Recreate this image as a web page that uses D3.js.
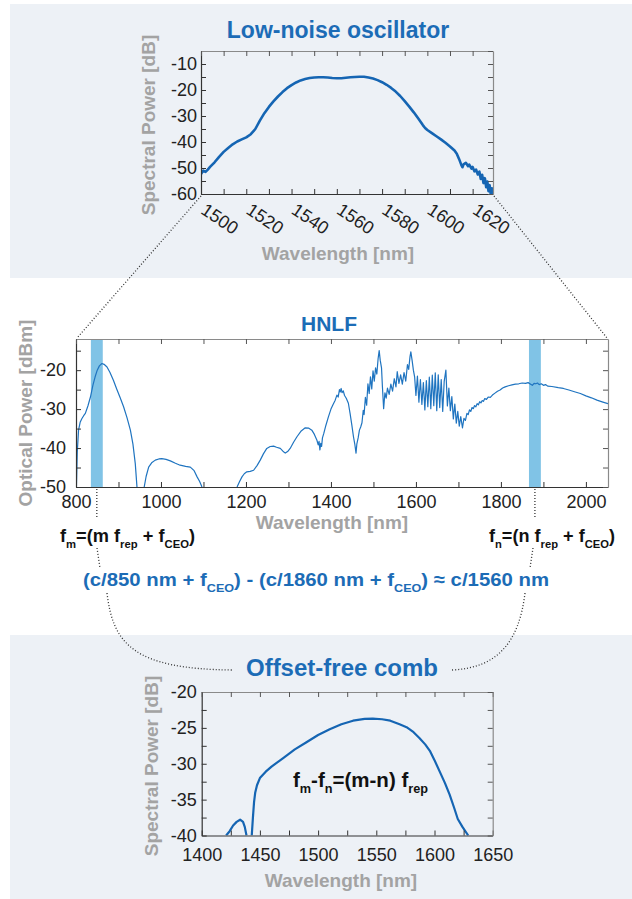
<!DOCTYPE html>
<html>
<head>
<meta charset="utf-8">
<script src="https://cdn.jsdelivr.net/npm/d3@7"></script>
<style>
    body { margin: 0; background: #fff; }
    svg { display: block; font-family: "Liberation Sans", Arial, sans-serif; }
    .axis text { font-size: 18px; fill: #222; font-family: "Liberation Sans", Arial, sans-serif; }
</style>
</head>
<body>
<script>
(function () {

    //spectrum of the low-noise oscillator [nm, dB]
    var oscSpectrum = [
        [1500, -52.3], [1501, -51], [1502, -51.5], [1503, -50.6], [1504, -49.6], [1506, -47.8],
        [1508, -45.7], [1510, -43.8], [1512, -42.3], [1514, -40.9], [1516, -39.8], [1518, -39.0],
        [1520, -38.2], [1522, -37.0], [1524, -35.0], [1526, -31.8], [1528, -28.9], [1530, -26.5],
        [1532, -24.4], [1534, -22.5], [1536, -20.8], [1538, -19.3], [1540, -18.1], [1542, -17.1],
        [1544, -16.3], [1546, -15.8], [1548, -15.4], [1550, -15.2], [1552, -15.1], [1554, -15.1],
        [1556, -15.2], [1558, -15.4], [1560, -15.5], [1562, -15.5], [1564, -15.3], [1566, -15.1],
        [1568, -15.0], [1570, -14.9], [1572, -14.9], [1574, -15.2], [1576, -15.6], [1578, -16.2],
        [1580, -17.0], [1582, -18.0], [1584, -19.2], [1586, -20.6], [1588, -22.3], [1590, -24.3],
        [1592, -26.4], [1594, -28.6], [1596, -31.0], [1598, -33.5], [1599, -34.6], [1600, -35.4],
        [1602, -36.6], [1604, -37.8], [1606, -39.0], [1608, -40.3], [1610, -41.7], [1612, -43.3],
        [1613, -44.5], [1614, -46.5], [1615, -48.8], [1615.5, -49.7], [1616, -48.6], [1617, -48.0],
        [1618, -49.3], [1618.5, -48.7], [1619.5, -50.2], [1620, -49.6], [1620.8, -51.3], [1621.5, -50.6],
        [1622.3, -52.5], [1623, -51.4], [1623.6, -54.2], [1624.2, -52.6], [1624.8, -55.8], [1625.4, -53.9],
        [1626, -57.4], [1626.5, -55.2], [1627, -58.9], [1627.5, -56.6], [1628, -60], [1628.5, -57.8], [1629, -60]
    ];

    //HNLF output spectrum [nm, dBm], three visible pieces
    var hnlfPiece1 = [
        [801, -50], [803, -41], [806, -35.4], [810, -33.3], [814, -32.4], [818, -31.7], [822, -31.1],
        [828, -29.2], [834, -26.9], [840, -23.8], [845, -21.7], [850, -20], [855, -18.9], [861, -18.3],
        [866, -18.5], [873, -19.2], [880, -20.6], [888, -22.6], [896, -24.9], [904, -27.1], [912, -29.4],
        [920, -32.2], [928, -35.4], [934, -39], [939.5, -44], [943.5, -50]
    ];
    var hnlfPiece2 = [
        [960.5, -50], [965, -47.3], [971, -44.9], [978, -43.8], [986.6, -43.1], [995, -42.8], [1002, -42.7],
        [1012, -42.9], [1022, -43.3], [1034, -43.9], [1045, -44.4], [1058, -44.7], [1069, -44.9],
        [1078, -45.8], [1085, -47.4], [1091, -48.6], [1096.5, -50]
    ];
    var hnlfPiece3 = [
        [1179, -50], [1185, -48.6], [1190.6, -47.4], [1196, -46.6], [1202, -46.1], [1210, -46], [1218, -45.7],
        [1226, -44.5], [1233.6, -43.1], [1241, -41.5], [1249, -40.1], [1257, -39.6], [1265, -39.5],
        [1272, -39.8], [1280.7, -40.1], [1287, -40.8], [1292.5, -41.3], [1298, -40.9], [1304, -40.1],
        [1312, -38.5], [1320, -37.1], [1330, -35.6], [1339.5, -34.8], [1348, -34.9], [1355, -35.4],
        [1361, -36.5], [1367, -38], [1370, -39.2], [1372, -38.3], [1374, -40.5], [1376, -38.8], [1378, -39.6],
        [1380, -37.4], [1383, -36.3], [1388, -34.2], [1394, -32], [1400, -30], [1405, -28.8], [1410, -27.7],
        [1414, -26.4], [1417, -26.9], [1420, -25.0], [1422, -25.6], [1424, -24.7], [1426, -25.8], [1429, -25.3],
        [1432, -26.5], [1436, -27.2], [1441, -28.5], [1445, -31.1], [1449, -34], [1453, -37.1], [1456, -38.9],
        [1459, -41.3], [1461, -38.9], [1464, -37.4], [1467, -35.4], [1470, -34.6], [1473, -33.5], [1476, -30.3],
        [1478, -31.4], [1481, -27], [1484, -29], [1487, -23.5], [1490, -26], [1493, -21.7], [1496, -24.8],
        [1499, -20.2], [1502, -22.8], [1505, -19.4], [1508, -21], [1511, -17], [1513.5, -15], [1516, -17.5],
        [1519, -19.4], [1521, -24], [1524, -29.9], [1527, -25.8], [1530, -27.2], [1533, -24.6], [1537, -26.2],
        [1541, -23.6], [1545, -25.4], [1549, -22.2], [1553, -24.3], [1556, -20.4], [1560, -23.4], [1564, -21.2],
        [1568, -23.6], [1572, -20.6], [1576, -22.8], [1580, -18.6], [1583, -19.8], [1586, -16.6], [1588, -15.3],
        [1591, -17.5], [1594, -20], [1597, -21.8], [1600, -26.5], [1603.5, -21.5], [1607, -28.2], [1610.5, -22.4],
        [1614, -28.8], [1617.5, -23.2], [1621, -30.2], [1624.5, -22.7], [1628, -29.4], [1631.5, -21.8],
        [1635, -29.9], [1638.5, -21.3], [1642, -29.1], [1645.5, -20.7], [1649, -30.4], [1652.5, -21.2],
        [1656, -29.6], [1659.5, -22.4], [1663, -30.6], [1666.5, -22.9], [1670.5, -20], [1674, -29.2],
        [1677.5, -24.6], [1681, -30.4], [1684.5, -26.8], [1688, -32.5], [1691.5, -28.7], [1695, -33.6],
        [1698.5, -30.6], [1702, -34.4], [1705.5, -31.9], [1709.5, -34.8], [1713, -32.4], [1716.5, -32.9],
        [1720, -31.1], [1723, -31.4], [1726, -30.2], [1729, -30.6], [1732, -29.6], [1735, -29.9],
        [1738, -29.1], [1741, -29.4], [1744, -28.6], [1747, -28.9], [1750, -28.1], [1753, -28.4], [1756, -27.8],
        [1759, -28], [1762, -27.3], [1766, -27.5], [1770, -26.9], [1775, -27.0], [1780, -26.4], [1786, -25.9],
        [1792, -25.4], [1798, -25.1], [1804, -24.6], [1810, -24.3], [1818, -24], [1826, -23.8], [1834, -23.6],
        [1842, -23.5], [1850, -23.3], [1858, -23.4], [1864, -23.2], [1870, -23.6], [1874, -23.9], [1878, -23.4],
        [1882, -23.5], [1886, -23.3], [1890, -23.7], [1895, -23.5], [1900, -23.9], [1905, -23.7], [1910, -24.1],
        [1920, -24.2], [1935, -24.5], [1947, -24.7], [1960, -25.1], [1975, -25.6], [1987, -26], [2000, -26.6],
        [2013, -27.1], [2026, -27.7], [2040, -28.2], [2052, -28.6]
    ];
    //filtered bands around 850 nm and 1880 nm
    var hnlfBands = [[835, 863], [1866, 1894]];

    //offset-free comb spectrum [nm, dB]
    var combSide = [
        [1421, -40], [1424, -39.4], [1427, -38.6], [1430, -38.1], [1433, -37.8], [1435.5, -38.1],
        [1437, -38.8], [1438.5, -40]
    ];
    var combMain = [
        [1443, -40], [1444, -37.5], [1445, -35.3], [1446, -34], [1447.5, -33.0], [1450, -32.0], [1455, -31.1],
        [1460, -30.4], [1470, -29.2], [1480, -28.0], [1490, -27.0], [1500, -26.0], [1510, -25.2], [1520, -24.5],
        [1530, -24.0], [1540, -23.75], [1547, -23.7], [1555, -23.8], [1562, -24.0], [1570, -24.5], [1576, -24.9],
        [1582, -25.6], [1587, -26.4], [1592, -27.3], [1596, -28.2], [1600, -29.5], [1604.5, -31.1], [1609, -32.7],
        [1613, -34.3], [1617, -36.2], [1620, -37.7], [1624, -38.8], [1629, -40]
    ];

    //tick labels
    var oscXLabels = [1500, 1520, 1540, 1560, 1580, 1600, 1620];
    var oscYLabels = [-10, -20, -30, -40, -50, -60];
    var hnlfXLabels = [800, 1000, 1200, 1400, 1600, 1800, 2000];
    var hnlfYLabels = [-20, -30, -40, -50];
    var combXLabels = [1400, 1450, 1500, 1550, 1600, 1650];
    var combYLabels = [-20, -25, -30, -35, -40];

    var blue = "#1c6cb6",
        grey = "#a3a3a3",
        panelFill = "#edf1f6";

    window.onload = draw();

    function draw() {
        var svg = d3.select("body").append("svg")
            .attr("width", 632)
            .attr("height", 899);

        //panel backgrounds
        svg.append("rect").attr("x", 10).attr("y", 4).attr("width", 622).attr("height", 274).attr("fill", panelFill);
        svg.append("rect").attr("x", 10).attr("y", 635).attr("width", 622).attr("height", 264).attr("fill", panelFill);

        //---- top: low-noise oscillator
        var xOsc = d3.scaleLinear().domain([1500, 1629]).range([201, 493]);
        var yOsc = d3.scaleLinear().domain([-60, -5]).range([194, 51]);
        plotLine(svg, "clipOsc", xOsc, yOsc, [oscSpectrum], "#1565b3", 2.6);
        drawAxes(svg, xOsc, yOsc, {
            xTicks: d3.range(1500, 1630, 10), xLabels: oscXLabels,
            yTicks: d3.range(-60, -4, 5), yLabels: oscYLabels,
            padX: 0, padY: 4, rotate: true
        });
        title(svg, "Low-noise oscillator", 338, 38, 23);
        axisLabel(svg, "Wavelength [nm]", 338, 260, false);
        axisLabel(svg, "Spectral Power [dB]", 155, 125, true);

        //zoom lines
        dotted(svg, "M201,196L77,338");
        dotted(svg, "M494,196L607,338");

        //---- middle: HNLF
        var xH = d3.scaleLinear().domain([800, 2052]).range([76, 608]);
        var yH = d3.scaleLinear().domain([-50, -12]).range([487, 339]);
        svg.append("rect").attr("x", 76).attr("y", 339).attr("width", 532).attr("height", 148).attr("fill", "#fff");
        svg.selectAll(".band")
            .data(hnlfBands)
            .enter()
            .append("rect")
            .attr("class", "band")
            .attr("x", function (d) { return xH(d[0]); })
            .attr("width", function (d) { return xH(d[1]) - xH(d[0]); })
            .attr("y", yH(-12))
            .attr("height", yH(-50) - yH(-12))
            .attr("fill", "#80c3e6");
        plotLine(svg, "clipH", xH, yH, [hnlfPiece1, hnlfPiece2, hnlfPiece3], "#1f74c0", 1.2);
        drawAxes(svg, xH, yH, {
            xTicks: d3.range(800, 2052, 100), xLabels: hnlfXLabels,
            yTicks: d3.range(-50, -12, 5), yLabels: hnlfYLabels,
            padX: 8, padY: 10, rotate: false
        });
        title(svg, "HNLF", 329, 331, 21);
        axisLabel(svg, "Wavelength [nm]", 332, 529, false);
        axisLabel(svg, "Optical Power [dBm]", 32, 413, true);

        //dotted links from the filtered bands
        var xl = xH(849), xr = xH(1880);
        dotted(svg, "M" + xl + ",489L" + xl + ",518");
        dotted(svg, "M" + xr + ",489L" + xr + ",518");
        dotted(svg, "M97,548L100,568");
        dotted(svg, "M533,548L530,568");
        dotted(svg, "M107,593C113,645 135,669 232,670");
        dotted(svg, "M525,593C519,643 497,668 452,670");

        richText(svg, 60, 542, [["f"], ["m", 1], ["=(m f"], ["rep", 1], [" + f"], ["CEO", 1], [")"]],
            19, "#111", 700, 135);
        richText(svg, 489, 542, [["f"], ["n", 1], ["=(n f"], ["rep", 1], [" + f"], ["CEO", 1], [")"]],
            19, "#111", 700, 126);
        richText(svg, 83, 586, [["(c/850 nm + f"], ["CEO", 1], [") - (c/1860 nm + f"], ["CEO", 1], [") \u2248 c/1560 nm"]],
            19, blue, 700, 466);

        //---- bottom: offset-free comb
        var xC = d3.scaleLinear().domain([1400, 1650]).range([201.7, 492.7]);
        var yC = d3.scaleLinear().domain([-40, -20]).range([835.5, 692]);
        plotLine(svg, "clipC", xC, yC, [combSide, combMain], "#1565b3", 2.2);
        drawAxes(svg, xC, yC, {
            xTicks: d3.range(1400, 1651, 25), xLabels: combXLabels,
            yTicks: d3.range(-40, -19, 2.5), yLabels: combYLabels,
            padX: 13, padY: 5, rotate: false
        });
        title(svg, "Offset-free comb", 342, 676, 24);
        axisLabel(svg, "Wavelength [nm]", 341, 887, false);
        axisLabel(svg, "Spectral Power [dB]", 158, 766, true);
        richText(svg, 293, 787, [["f"], ["m", 1], ["-f"], ["n", 1], ["=(m-n) f"], ["rep", 1]],
            20, "#111", 700, 135);
    };

    function plotLine(svg, id, x, y, pieces, color, width) {
        var r = x.range(), s = y.range();
        svg.append("clipPath").attr("id", id)
            .append("rect")
            .attr("x", r[0]).attr("y", s[1])
            .attr("width", r[1] - r[0]).attr("height", s[0] - s[1]);

        var line = d3.line()
            .x(function (d) { return x(d[0]); })
            .y(function (d) { return y(d[1]); });

        svg.append("g")
            .attr("clip-path", "url(#" + id + ")")
            .selectAll("path")
            .data(pieces)
            .enter()
            .append("path")
            .attr("d", line)
            .attr("fill", "none")
            .attr("stroke", color)
            .attr("stroke-width", width)
            .attr("stroke-linejoin", "round");
    };

    function drawAxes(svg, x, y, o) {
        var x0 = x.range()[0], x1 = x.range()[1],
            yb = y.range()[0], yt = y.range()[1];
        var fmtX = function (d) { return o.xLabels.indexOf(d) >= 0 ? String(d) : ""; };
        var fmtY = function (d) { return o.yLabels.indexOf(d) >= 0 ? String(d) : ""; };

        var bottom = svg.append("g").attr("class", "axis")
            .attr("transform", "translate(0," + yb + ")")
            .call(d3.axisBottom(x).tickValues(o.xTicks).tickFormat(o.rotate ? function () { return ""; } : fmtX)
                .tickSize(-5).tickSizeOuter(0).tickPadding(o.padX));
        var left = svg.append("g").attr("class", "axis")
            .attr("transform", "translate(" + x0 + ",0)")
            .call(d3.axisLeft(y).tickValues(o.yTicks).tickFormat(fmtY)
                .tickSize(-5).tickSizeOuter(0).tickPadding(o.padY));
        var top = svg.append("g").attr("class", "axis")
            .attr("transform", "translate(0," + yt + ")")
            .call(d3.axisTop(x).tickValues(o.xTicks).tickFormat("").tickSize(-5).tickSizeOuter(0));
        var right = svg.append("g").attr("class", "axis")
            .attr("transform", "translate(" + x1 + ",0)")
            .call(d3.axisRight(y).tickValues(o.yTicks).tickFormat("").tickSize(-5).tickSizeOuter(0));

        [bottom, left].forEach(function (g) {
            g.select(".domain").attr("stroke", "#333").attr("stroke-width", 1.2);
            g.selectAll(".tick line").attr("stroke", "#333");
        });
        [top, right].forEach(function (g) {
            g.select(".domain").attr("stroke", "#8a8a8a").attr("stroke-width", 1.2);
            g.selectAll(".tick line").attr("stroke", "#555");
        });

        //rotated labels for the top chart
        if (o.rotate) {
            svg.selectAll(".rotLabel")
                .data(o.xLabels)
                .enter()
                .append("text")
                .attr("class", "rotLabel")
                .attr("transform", function (d) { return "translate(" + (x(d) + 6) + "," + (yb + 8) + ") rotate(34)"; })
                .attr("dy", "0.72em")
                .attr("font-size", 18)
                .attr("fill", "#222")
                .text(function (d) { return d; });
        }
    };

    function title(svg, txt, x, y, size) {
        svg.append("text")
            .attr("x", x).attr("y", y)
            .attr("text-anchor", "middle")
            .attr("font-size", size)
            .attr("font-weight", 700)
            .attr("fill", blue)
            .text(txt);
    };

    function axisLabel(svg, txt, x, y, vertical) {
        svg.append("text")
            .attr("transform", "translate(" + x + "," + y + ")" + (vertical ? " rotate(-90)" : ""))
            .attr("text-anchor", "middle")
            .attr("font-size", 19)
            .attr("font-weight", 700)
            .attr("fill", grey)
            .text(txt);
    };

    function dotted(svg, d) {
        svg.append("path")
            .attr("d", d)
            .attr("fill", "none")
            .attr("stroke", "#333")
            .attr("stroke-width", 1.3)
            .attr("stroke-dasharray", "1,2");
    };

    //text with subscripts: parts = [[text, isSub], ...]
    function richText(svg, x, y, parts, size, color, weight, width) {
        var t = svg.append("text")
            .attr("x", x).attr("y", y)
            .attr("font-size", size)
            .attr("font-weight", weight)
            .attr("fill", color);
        var cur = 0;
        parts.forEach(function (p) {
            var sub = p[1] === 1;
            var target = sub ? size * 0.3 : 0;
            t.append("tspan")
                .attr("dy", target - cur)
                .attr("font-size", sub ? size * 0.62 : size)
                .text(p[0]);
            cur = target;
        });
        if (width) {
            t.attr("textLength", width).attr("lengthAdjust", "spacingAndGlyphs");
        }
    };

})();
</script>
</body>
</html>
